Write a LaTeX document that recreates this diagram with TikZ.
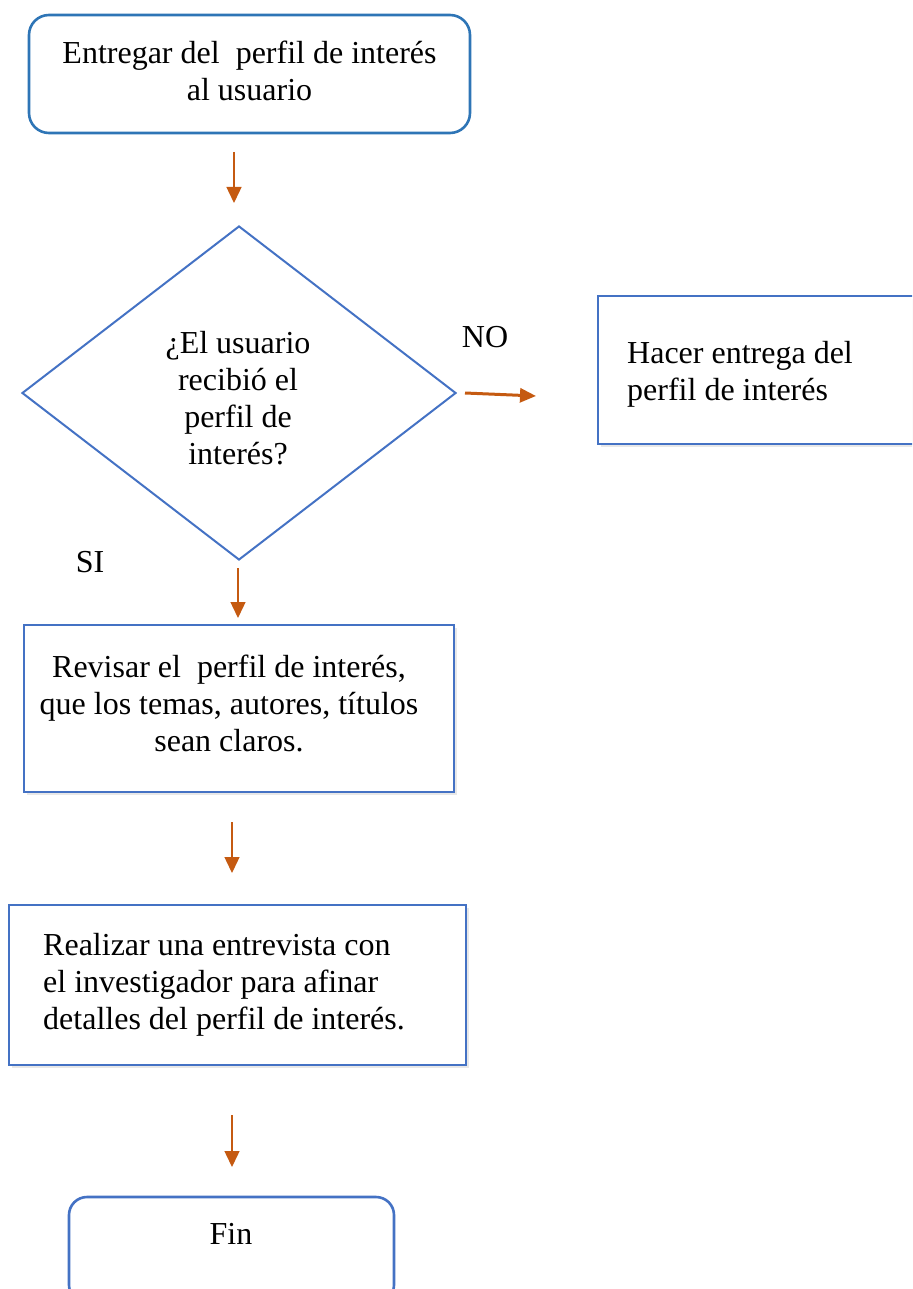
\documentclass[tikz,border=0pt]{standalone}
\usepackage{fontspec}
\setmainfont{Liberation Serif}
\usetikzlibrary{arrows.meta,shapes.geometric,shadows}
\definecolor{boxblue}{HTML}{4472C4}
\definecolor{termblue}{HTML}{2E75B6}
\definecolor{flow}{HTML}{C55A11}
\begin{document}
\begin{tikzpicture}[x=1pt,y=-1pt,
  txt/.style={inner sep=0pt, font=\fontsize{32}{37}\selectfont},
  terminal/.style={draw=termblue, line width=2.6pt, rounded corners=20pt, inner sep=0pt},
  procbox/.style={draw=boxblue, line width=2pt, fill=white, inner sep=0pt,
    drop shadow={opacity=0.18, shadow xshift=2.5pt, shadow yshift=-3pt}},
  decision/.style={draw=boxblue, line width=2pt, diamond, inner sep=0pt},
  flowarrow/.style={draw=flow, line width=1.4pt, -{Triangle[width=15pt,length=16pt]}},
  flowarrowbold/.style={draw=flow, line width=3pt, -{Triangle[width=14pt,length=16pt]}}]
  \useasboundingbox (0,0) rectangle (912,1289);
  \clip (0,0) rectangle (912,1289);

  % start
  \node[terminal, minimum width=441pt, minimum height=118pt] (start) at (249.5,74) {};
  \node[txt, align=center] (starttxt) at (249.5,70.5) {Entregar del\ \ perfil de interés\\al usuario};

  % decision
  \node[decision, minimum width=434pt, minimum height=334pt] (dec) at (239,393) {};
  \node[txt, align=center] (dectxt) at (238,398) {¿El usuario\\recibió el\\perfil de\\interés?};

  % NO branch
  \node[procbox, minimum width=332pt, minimum height=148pt] (deliver) at (764,370) {};
  \node[txt, align=left, anchor=west] (delivertxt) at (627,374.5) {Hacer entrega del\\perfil de interés};
  \node[txt] (nolbl) at (485,337.5) {NO};
  \node[txt] (silbl) at (90,562) {SI};

  % review
  \node[procbox, minimum width=430pt, minimum height=167pt] (review) at (239,708.5) {};
  \node[txt, align=center] (reviewtxt) at (229,703) {Revisar el\ \ perfil de interés,\\que los temas, autores, títulos\\sean claros.};

  % interview
  \node[procbox, minimum width=457pt, minimum height=160pt] (interview) at (237.5,985) {};
  \node[txt, align=left, anchor=west] (interviewtxt) at (43,985) {Realizar una entrevista con\\el investigador para afinar\\detalles del perfil de interés.};

  % end
  \node[terminal, draw=boxblue, minimum width=325pt, minimum height=106pt, rounded corners=18pt] (finish) at (231.5,1250) {};
  \node[txt] (finishtxt) at (231,1233.5) {Fin};

  % connectors
  \coordinate (a1s) at (234,152);  \coordinate (a1e) at (234,203);
  \coordinate (a2s) at (238,568);  \coordinate (a2e) at (238,618);
  \coordinate (a3s) at (232,822);  \coordinate (a3e) at (232,873);
  \coordinate (a4s) at (232,1115); \coordinate (a4e) at (232,1167);
  \coordinate (nos) at (465,393);  \coordinate (noe) at (536,396);
  \draw[flowarrow] (a1s) -- (a1e);
  \draw[flowarrow] (a2s) -- (a2e);
  \draw[flowarrow] (a3s) -- (a3e);
  \draw[flowarrow] (a4s) -- (a4e);
  \draw[flowarrowbold] (nos) -- (noe);
\end{tikzpicture}
\end{document}
